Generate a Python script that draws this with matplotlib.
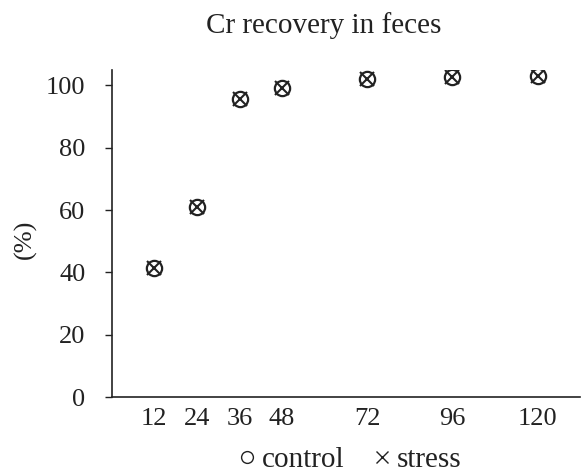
import matplotlib
matplotlib.use("Agg")
import matplotlib.pyplot as plt
from matplotlib.lines import Line2D

hours = [12, 24, 36, 48, 72, 96, 120]
control = [41.5, 61, 95.5, 99.2, 102, 102.8, 103]
stress = [41.5, 61, 95.5, 99.2, 102, 102.8, 103]
yticks = [0, 20, 40, 60, 80, 100]

plt.rcParams['font.family'] = ['Liberation Serif', 'DejaVu Serif']
fig = plt.figure(figsize=(5.82, 4.75), dpi=100)
ax = fig.add_axes([0.192, 0.164, 0.805, 0.689])

ax.plot(hours, control, linestyle='none', marker='o', markersize=11,
        markerfacecolor='none', markeredgecolor='#222222', markeredgewidth=1.6)
ax.plot(hours, stress, linestyle='none', marker='x', markersize=10.5,
        markeredgecolor='#222222', markeredgewidth=1.5)

ax.set_xlim(0, 132)
ax.set_ylim(0, 105)
ax.set_xticks(hours)
ax.set_yticks(yticks)
ax.tick_params(axis='x', length=0, pad=8, labelsize=19, colors='#222222')
ax.tick_params(axis='y', length=5, width=1, pad=14, labelsize=19, colors='#222222', direction='out')
for s in ['top', 'right']:
    ax.spines[s].set_visible(False)
for s in ['left', 'bottom']:
    ax.spines[s].set_color('#222222')
    ax.spines[s].set_linewidth(1.2)

fig.text(25 / 582, 1 - 239 / 475, '(%)', fontsize=19, color='#222222',
         rotation=90, ha='center', va='center')
fig.text(324 / 582, 1 - 33 / 475, 'Cr recovery in feces', fontsize=21,
         color='#222222', ha='center', va='baseline')

handles = [
    Line2D([], [], linestyle='none', marker='o', markersize=8.5, markerfacecolor='none',
           markeredgecolor='#222222', markeredgewidth=1.0, label='control'),
    Line2D([], [], linestyle='none', marker='x', markersize=9,
           markeredgecolor='#222222', markeredgewidth=1.0, label='stress'),
]
fig.legend(handles=handles, loc='center', bbox_to_anchor=(0.599, 0.031), ncol=2,
           frameon=False, fontsize=21, handletextpad=0.1, columnspacing=0.9,
           handlelength=0.8, labelcolor='#222222', borderpad=0, borderaxespad=0)

fig.savefig('out.png', dpi=100)
